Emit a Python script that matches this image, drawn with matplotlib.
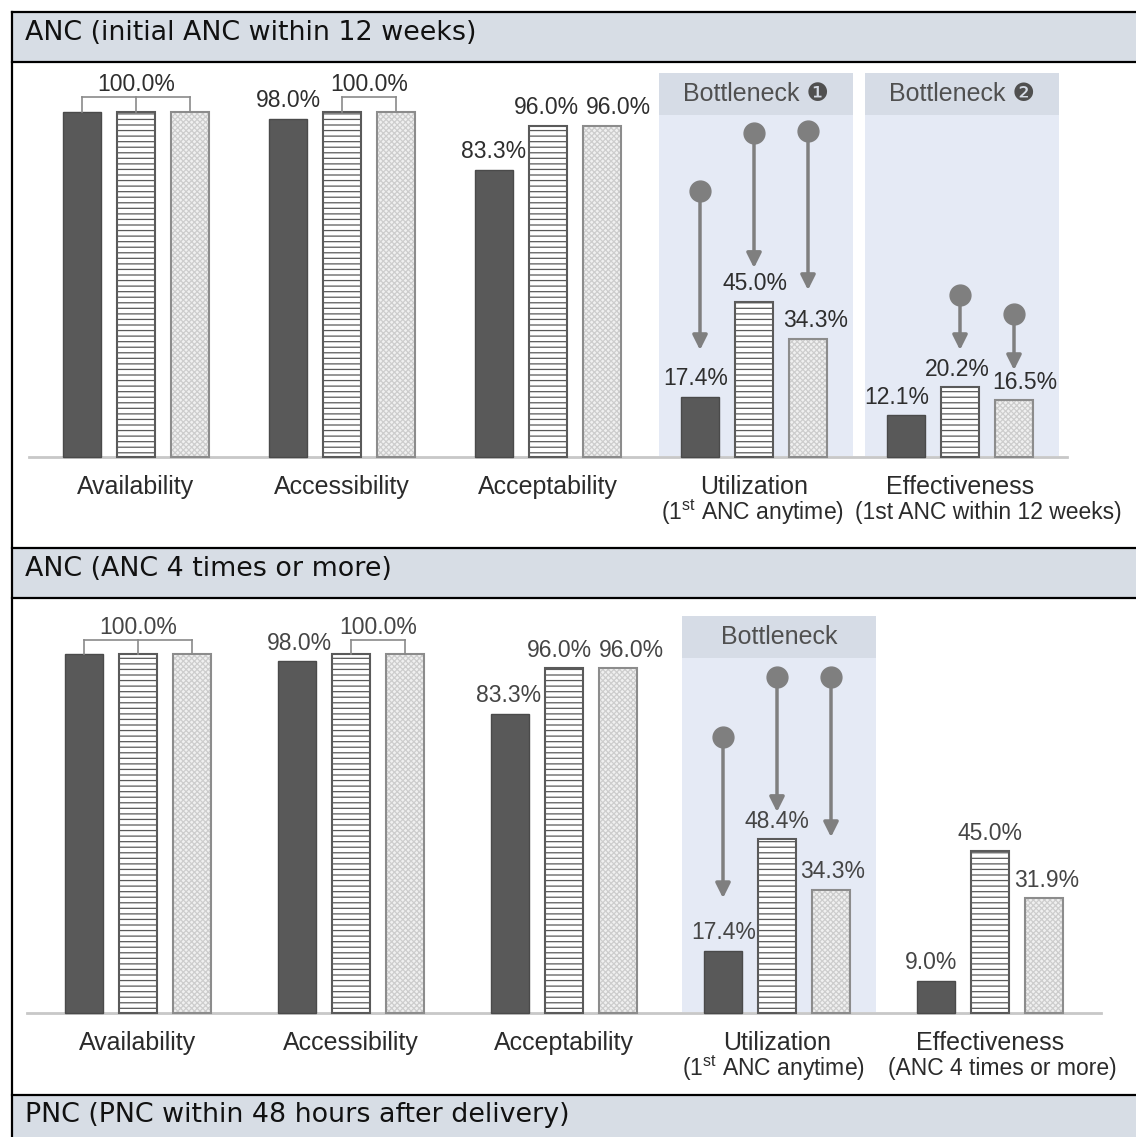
import matplotlib.pyplot as plt
from matplotlib.patches import Rectangle

plt.rcParams['font.family'] = ['Liberation Sans', 'DejaVu Sans']
plt.rcParams['mathtext.fontset'] = 'custom'
plt.rcParams['mathtext.rm'] = 'Liberation Sans'
plt.rcParams['hatch.linewidth'] = 0.9

W, H = 1136, 1137

categories = ['Availability', 'Accessibility', 'Acceptability', 'Utilization', 'Effectiveness']
sub_1 = ['', '', '', '(1$^{\\mathrm{st}}$ ANC anytime)', '(1st ANC within 12 weeks)']
sub_2 = ['', '', '', '(1$^{\\mathrm{st}}$ ANC anytime)', '(ANC 4 times or more)']
headers = ['ANC (initial ANC within 12 weeks)', 'ANC (ANC 4 times or more)',
           'PNC (PNC within 48 hours after delivery)']

dark_1 = [100.0, 98.0, 83.3, 17.4, 12.1]
striped_1 = [100.0, 100.0, 96.0, 45.0, 20.2]
dotted_1 = [100.0, 100.0, 96.0, 34.3, 16.5]

dark_2 = [100.0, 98.0, 83.3, 17.4, 9.0]
striped_2 = [100.0, 100.0, 96.0, 48.4, 45.0]
dotted_2 = [100.0, 100.0, 96.0, 34.3, 31.9]

# arrows: (group, bar, from %, to %)
arrows_1 = [(3, 0, 77.1, 31.0), (3, 1, 93.9, 54.8), (3, 2, 94.5, 48.4),
            (4, 1, 47.0, 31.0), (4, 2, 41.4, 25.2)]
arrows_2 = [(3, 0, 76.9, 32.0), (3, 1, 93.6, 56.0), (3, 2, 93.6, 49.0)]

bottlenecks_1 = [(3, 'Bottleneck \u2776'), (4, 'Bottleneck \u2777')]
bottlenecks_2 = [(3, 'Bottleneck')]

fig = plt.figure(figsize=(W / 100, H / 100), dpi=100)

# page frame and header bands (pixel coordinates)
bg = fig.add_axes([0, 0, 1, 1])
bg.set_xlim(0, W)
bg.set_ylim(H, 0)
bg.axis('off')
for (y0, y1), txt in zip([(12, 62), (548, 598), (1095, 1140)], headers):
    bg.add_patch(Rectangle((12, y0), W - 12, y1 - y0, facecolor='#d7dde5', edgecolor='none'))
    bg.text(25, y0 + 20.5, txt, family='DejaVu Sans',
            fontsize=19.4, va='center', ha='left', color='#111111')
for y in [12, 62, 548, 598, 1095]:
    bg.plot([12, W], [y, y], color='black', lw=1.6)
bg.plot([12, 12], [12, H], color='black', lw=1.6)


def panel(box, x0px, step, ybase, yscale, dark, striped, dotted, subs, arrows, boxes,
          brk, dx, sub_dx, val_color, boxtop):
    top, bottom = box
    ax = fig.add_axes([12 / W, 1 - bottom / H, (W - 12) / W, (bottom - top) / H])
    ax.set_xlim(-(x0px - 12) / step, (W - x0px) / step)
    ax.set_ylim(-(bottom - ybase) / yscale * 100, (ybase - top) / yscale * 100)
    ax.axis('off')
    off = 54 / step
    bw = 38.5 / step
    # bottleneck shading
    ppu = yscale / 100.0
    for g, title in boxes:
        bx = g + 0.01
        bwid = 194 / step
        ax.add_patch(Rectangle((bx - bwid / 2, 1.5 / ppu), bwid, (ybase - boxtop) / ppu - 1.5 / ppu,
                               facecolor='#e5eaf5', edgecolor='none', zorder=0))
        ax.add_patch(Rectangle((bx - bwid / 2, (ybase - boxtop - 42) / ppu), bwid, 42 / ppu,
                               facecolor='#d6dce6', edgecolor='none', zorder=0))
        ax.text(bx, (ybase - boxtop - 21) / ppu, title, ha='center', va='center',
                fontsize=18, color='#505050')
    xs = list(range(len(dark)))
    ax.bar([x - off for x in xs], dark, bw, color='#595959', edgecolor='#4a4a4a', lw=1, zorder=2)
    ax.bar(xs, striped, bw, facecolor='white', edgecolor='#5a5a5a', hatch='---', lw=1.5, zorder=2)
    ax.bar([x + off for x in xs], dotted, bw, facecolor='#f0f0f0', edgecolor='#cdcdcd',
           hatch='xxxxxx', lw=0, zorder=2)
    ax.bar([x + off for x in xs], dotted, bw, fill=False, edgecolor='#8c8c8c', lw=1.5, zorder=3)
    ax.plot([-0.5 - 0.02, 4.52], [0, 0], color='#c8c8c8', lw=2, zorder=1)
    # brackets for the 100% groups
    bh, lh = brk
    for g, bars in [(0, [0, 1, 2]), (1, [1, 2])]:
        bx = [g + (b - 1) * off for b in bars]
        ax.plot([bx[0], bx[-1]], [bh, bh], color='#8a8a8a', lw=1.2, zorder=3)
        for x in bx:
            ax.plot([x, x], [100, bh], color='#8a8a8a', lw=1.2, zorder=3)
        ax.text(sum(bx) / len(bx), lh, '100.0%', ha='center', va='center',
                fontsize=16.5, color=val_color)
    # value labels
    series = [dark, striped, dotted]
    for g in range(len(dark)):
        for b in range(3):
            if g == 0 or (g == 1 and b > 0):
                continue
            v = series[b][g]
            ax.annotate(f'{v:.1f}%', (g + (b - 1) * off, v), xytext=(dx[g][b], 18),
                        textcoords='offset pixels', ha='center', va='center',
                        fontsize=16.5, color=val_color, zorder=4)
    # arrows
    for g, b, a0, a1 in arrows:
        x = g + (b - 1) * off
        ax.annotate('', xy=(x, a1), xytext=(x, a0),
                    arrowprops=dict(arrowstyle='-|>', color='#7f7f7f', lw=2.5,
                                    mutation_scale=22, shrinkA=0, shrinkB=0), zorder=4)
        ax.plot(x, a0, 'o', ms=15, color='#7f7f7f', zorder=5)
    # category labels
    for g, (c, s) in enumerate(zip(categories, subs)):
        ax.annotate(c, (g, 0), xytext=(0, -30), textcoords='offset pixels',
                    ha='center', va='center', fontsize=18, color='#2b2b2b')
        if s:
            ax.annotate(s, (g, 0), xytext=(sub_dx[g], -55), textcoords='offset pixels',
                        ha='center', va='center', fontsize=16.5, color='#2b2b2b')
    return ax


dx_1 = [[0, 0, 0], [0, 0, 0], [0, -2, 16], [-4, 1, 8], [-9, -3, 11]]
dx_2 = [[0, 0, 0], [2, 0, 0], [-1, -5, 13], [1, 0, 2], [-5, 0, 3]]

panel((62, 548), 136, 206, 457, 345, dark_1, striped_1, dotted_1, sub_1, arrows_1,
      bottlenecks_1, (104.3, 108.1), dx_1, [0, 0, 0, -2, 28], '#2e2e2e', 73)
panel((598, 1095), 138, 213, 1013, 359, dark_2, striped_2, dotted_2, sub_2, arrows_2,
      bottlenecks_2, (103.9, 107.5), dx_2, [0, 0, 0, -4, 12], '#454545', 616)

fig.savefig('out.png', dpi=100)
